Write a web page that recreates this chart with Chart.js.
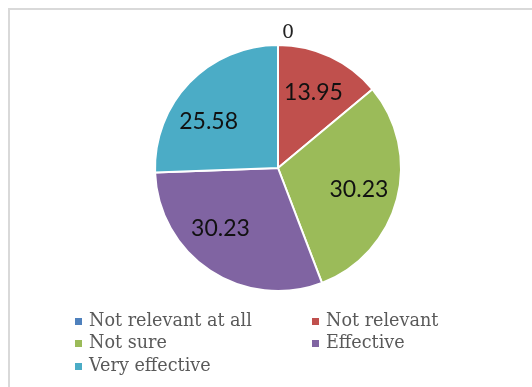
<!DOCTYPE html>
<html>
<head>
<meta charset="utf-8">
<script src="https://cdn.jsdelivr.net/npm/chart.js@4"></script>
<style>
  html, body { margin: 0; padding: 0; background: #ffffff; }
  #wrap { position: relative; width: 532px; height: 387px; }
</style>
</head>
<body>
<div id="wrap"><canvas id="pieChart" width="532" height="387"></canvas></div>
<script>
// --- Chart data ---
const categories = ['Not relevant at all', 'Not relevant', 'Not sure', 'Effective', 'Very effective'];
const percentages = [0, 13.95, 30.23, 30.23, 25.58];
const sliceColors = ['#4F81BD', '#C0504D', '#9BBB59', '#8064A2', '#4BACC6'];

// frame line along the top and left edge, like the original export
const framePlugin = {
    id: 'frame',
    beforeDraw(chart) {
        const ctx = chart.ctx;
        ctx.save();
        ctx.fillStyle = '#d9d9d9';
        ctx.fillRect(8, 8, chart.width, 2);
        ctx.fillRect(8, 8, 2, chart.height);
        ctx.restore();
    }
};

// value labels inside the slices (zero slice gets its label above the pie)
const valueLabels = {
    id: 'valueLabels',
    afterDatasetsDraw(chart) {
        const ctx = chart.ctx;
        const meta = chart.getDatasetMeta(0);
        const values = chart.data.datasets[0].data;
        ctx.save();
        ctx.textAlign = 'center';
        ctx.textBaseline = 'middle';
        meta.data.forEach((arc, i) => {
            const p = arc.getProps(['x', 'y', 'startAngle', 'endAngle', 'outerRadius'], true);
            let mid = (p.startAngle + p.endAngle) / 2;
            if (values[i] === 0) {
                ctx.font = '19px "DejaVu Serif", serif';
                ctx.fillStyle = '#222222';
                ctx.fillText('0', p.x + 10, p.y - p.outerRadius - 12);
                return;
            }
            // labels on the left half sit a little closer to the horizontal, as in the original
            if (Math.cos(mid) < -0.3) mid += (Math.sin(mid) > 0 ? 1 : -1) * (10 * Math.PI / 180);
            const r = p.outerRadius * 0.68;
            ctx.font = '23px Lato, sans-serif';
            ctx.fillStyle = '#111111';
            ctx.fillText(values[i].toFixed(2), p.x + Math.cos(mid) * r, p.y + Math.sin(mid) * r);
        });
        ctx.restore();
    }
};

// two column legend under the pie
const legendPlugin = {
    id: 'sideLegend',
    afterDraw(chart) {
        const ctx = chart.ctx;
        const colX = [75, 312];
        const rowY = [321, 343, 366];
        ctx.save();
        ctx.font = '17.6px "DejaVu Serif", serif';
        ctx.textBaseline = 'middle';
        ctx.textAlign = 'left';
        chart.data.labels.forEach((label, i) => {
            const x = colX[i % 2];
            const y = rowY[Math.floor(i / 2)];
            ctx.fillStyle = sliceColors[i];
            ctx.fillRect(x, y - 3, 7, 7);
            ctx.fillStyle = '#595959';
            ctx.fillText(label, x + 14, y);
        });
        ctx.restore();
    }
};

new Chart(document.getElementById('pieChart').getContext('2d'), {
    type: 'pie',
    data: {
        labels: categories,
        datasets: [{
            data: percentages,
            backgroundColor: sliceColors,
            borderColor: '#ffffff',
            borderWidth: 2
        }]
    },
    options: {
        responsive: false,
        animation: false,
        layout: { padding: { top: 44, bottom: 95, left: 154, right: 130 } },
        plugins: {
            legend: { display: false },
            tooltip: { enabled: false }
        }
    },
    plugins: [framePlugin, valueLabels, legendPlugin]
});
</script>
</body>
</html>
